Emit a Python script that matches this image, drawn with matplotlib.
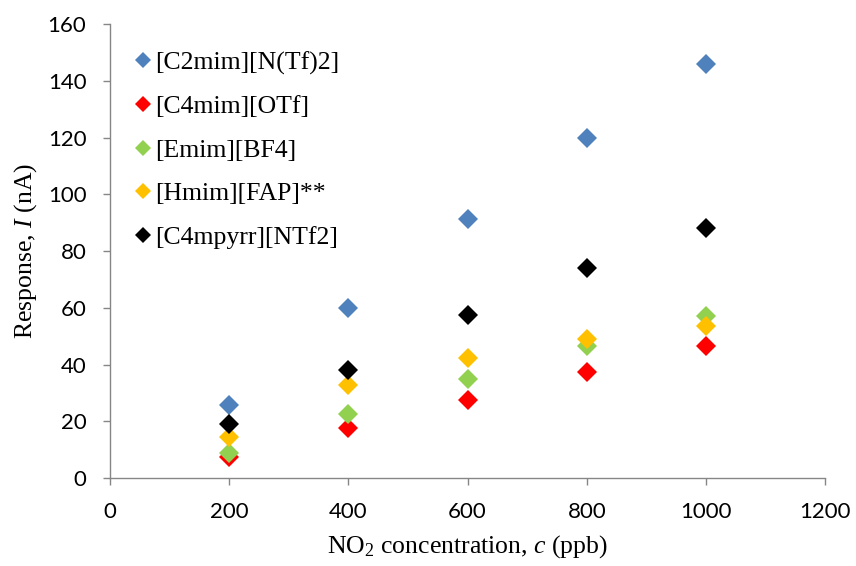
import matplotlib.pyplot as plt

plt.rcParams["mathtext.fontset"] = "custom"
plt.rcParams["mathtext.rm"] = "Liberation Serif"
plt.rcParams["mathtext.it"] = "Liberation Serif:italic"

conc = [200, 400, 600, 800, 1000]

names = ["[C2mim][N(Tf)2]", "[C4mim][OTf]", "[Emim][BF4]", "[Hmim][FAP]**", "[C4mpyrr][NTf2]"]
c2mim_ntf2 = [25.7, 59.9, 91.3, 119.8, 146.0]
c4mim_otf = [7.4, 17.6, 27.5, 37.4, 46.5]
emim_bf4 = [8.8, 22.6, 34.9, 46.5, 57.1]
hmim_fap = [14.4, 32.8, 42.3, 49.0, 53.6]
c4mpyrr_ntf2 = [19.0, 38.1, 57.4, 74.0, 88.1]
colors = ["#4f81bd", "#ff0000", "#92d050", "#ffc000", "#000000"]

series = [c2mim_ntf2, c4mim_otf, emim_bf4, hmim_fap, c4mpyrr_ntf2]

fig = plt.figure(figsize=(8.56, 5.66), dpi=100)
ax = fig.add_axes([0.1285, 0.1555, 0.8355, 0.802])

for name, vals, col in zip(names, series, colors):
    ax.plot(conc, vals, linestyle="none", marker="D", markersize=10,
            color=col, markeredgewidth=0, label=name)

ax.set_xlim(0, 1200)
ax.set_ylim(0, 160)
ax.set_xticks(range(0, 1201, 200))
ax.set_yticks(range(0, 161, 20))

for lab in ax.get_xticklabels() + ax.get_yticklabels():
    lab.set_fontfamily("Lato")
    lab.set_fontsize(16)

for s in ["top", "right"]:
    ax.spines[s].set_visible(False)
for s in ["left", "bottom"]:
    ax.spines[s].set_color("#868686")
    ax.spines[s].set_linewidth(1.0)
ax.tick_params(direction="out", length=5, color="#868686", width=1.0, pad=12)

ax.set_xlabel("NO$_2$ concentration, $c$ (ppb)", family="Liberation Serif", fontsize=18.5, labelpad=8)
ax.set_ylabel("Response, $I$ (nA)", family="Liberation Serif", fontsize=18.5, labelpad=6)

ax.legend(loc="upper left", frameon=False, prop={"family": "Liberation Serif", "size": 18.5},
          handletextpad=0.0, labelspacing=0.8, borderaxespad=0.3, handlelength=0.95,
          markerscale=0.85, bbox_to_anchor=(0.004, 0.98))

fig.savefig("out.png", dpi=100)
